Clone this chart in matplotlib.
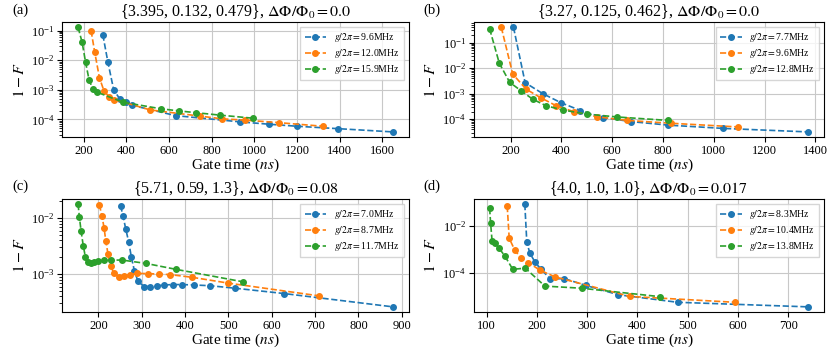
import matplotlib
matplotlib.use("Agg")
import matplotlib.pyplot as plt
from matplotlib.ticker import MultipleLocator

plt.rcParams["font.family"] = "serif"
plt.rcParams["font.serif"] = ["Liberation Serif", "DejaVu Serif"]
plt.rcParams["mathtext.fontset"] = "stix"

# panel (a)
a_titles = "{3.395, 0.132, 0.479}, $\\Delta\\Phi/\\Phi_0=0.0$"
a_g = ["9.6", "12.0", "15.9"]
a_t1 = [289, 313, 340, 368, 396, 427, 630, 933, 1070, 1200, 1391, 1650]
a_f1 = [0.073, 0.0085, 1e-3, 5e-4, 4e-4, 3e-4, 1.35e-4, 8.3e-5, 6.9e-5, 5.9e-5, 4.9e-5, 3.8e-5]
a_t2 = [234, 251, 273, 295, 320, 343, 511, 744, 850, 957, 1116, 1321]
a_f2 = [0.1, 0.0187, 2.6e-3, 8.9e-4, 5.8e-4, 4.7e-4, 2.1e-4, 1.3e-4, 1.05e-4, 9.5e-5, 7.8e-5, 5.9e-5]
a_t3 = [173, 192, 208, 225, 242, 262, 385, 561, 645, 724, 839, 995]
a_f3 = [0.13, 0.04, 0.0087, 0.0021, 1.1e-3, 8.3e-4, 3.8e-4, 2.3e-4, 1.95e-4, 1.7e-4, 1.4e-4, 1.1e-4]

# panel (b)
b_titles = "{3.27, 0.125, 0.462}, $\\Delta\\Phi/\\Phi_0=0.0$"
b_g = ["7.7", "9.6", "12.8"]
b_t1 = [211, 257, 327, 397, 475, 563, 675, 821, 1036, 1373]
b_f1 = [0.4, 2.7e-3, 1e-3, 4.5e-4, 2.2e-4, 1.17e-4, 8.1e-5, 5.9e-5, 4.4e-5, 3.2e-5]
b_t2 = [163, 208, 261, 319, 379, 451, 540, 660, 830, 1097]
b_f2 = [0.4, 5.9e-3, 1.5e-3, 6.9e-4, 3.4e-4, 1.95e-4, 1.25e-4, 9e-5, 7e-5, 5e-5]
b_t3 = [117, 155, 196, 241, 287, 339, 405, 499, 620, 821]
b_f3 = [0.35, 0.0158, 2.8e-3, 1.3e-3, 6.1e-4, 3.4e-4, 2.3e-4, 1.6e-4, 1.23e-4, 9e-5]

# panel (c)
c_titles = "{5.71, 0.59, 1.3}, $\\Delta\\Phi/\\Phi_0=0.08$"
c_g = ["7.0", "8.7", "11.7"]
c_t1 = [251, 257, 263, 270, 276, 283, 291, 305, 320, 336, 352, 372, 392, 420, 458, 515, 628, 880]
c_f1 = [0.0167, 0.0107, 6.4e-3, 3.7e-3, 2.0e-3, 1.15e-3, 7.5e-4, 6.0e-4, 6.0e-4, 6.2e-4,
        6.4e-4, 6.5e-4, 6.5e-4, 6.4e-4, 6.2e-4, 5.6e-4, 4.5e-4, 2.6e-4]
c_t2 = [202, 208, 213, 217, 222, 228, 236, 247, 258, 272, 290, 315, 340, 365, 415, 500, 708]
c_f2 = [0.0174, 0.011, 6.7e-3, 3.9e-3, 2.3e-3, 1.4e-3, 1.03e-3, 9.0e-4, 9.2e-4, 9.8e-4,
        1.03e-3, 1.02e-3, 1.0e-3, 9.8e-4, 8.8e-4, 6.9e-4, 4.1e-4]
c_t3 = [153, 156, 160, 165, 170, 176, 183, 190, 200, 212, 230, 255, 310, 378, 533]
c_f3 = [0.0178, 0.0105, 5.8e-3, 3.2e-3, 2.0e-3, 1.62e-3, 1.57e-3, 1.62e-3, 1.7e-3, 1.75e-3,
        1.78e-3, 1.78e-3, 1.55e-3, 1.22e-3, 7.3e-4]

# panel (d)
d_titles = "{4.0, 1.0, 1.0}, $\\Delta\\Phi/\\Phi_0=0.017$"
d_g = ["8.3", "10.4", "13.8"]
d_t1 = [176, 180, 186, 196, 208, 227, 254, 297, 362, 480, 740]
d_f1 = [0.09, 2.0e-3, 6.9e-4, 2.9e-4, 1.4e-4, 5.2e-5, 5.5e-5, 2.8e-5, 1.1e-5, 5.2e-6, 3.3e-6]
d_t2 = [141, 145, 156, 168, 183, 206, 237, 385, 594]
d_f2 = [0.074, 3.0e-3, 9.3e-4, 4.3e-4, 2.7e-4, 1.26e-4, 6.4e-5, 9.3e-6, 5.2e-6]
d_t3 = [106, 108, 111, 117, 125, 136, 152, 177, 216, 289, 445]
d_f3 = [0.060, 0.0135, 2.2e-3, 1.9e-3, 1.1e-3, 5.3e-4, 1.38e-4, 1.54e-4, 2.6e-5, 2.1e-5, 9.1e-6]

panels = [
    ("(a)", a_titles, a_g, [(a_t1, a_f1), (a_t2, a_f2), (a_t3, a_f3)], 200, None),
    ("(b)", b_titles, b_g, [(b_t1, b_f1), (b_t2, b_f2), (b_t3, b_f3)], 200, None),
    ("(c)", c_titles, c_g, [(c_t1, c_f1), (c_t2, c_f2), (c_t3, c_f3)], 100, None),
    ("(d)", d_titles, d_g, [(d_t1, d_f1), (d_t2, d_f2), (d_t3, d_f3)], 100, [1e-2, 1e-4]),
]

fig = plt.figure(figsize=(8.31, 3.49), dpi=100)

rects = [
    [0.075, 0.607, 0.417, 0.330],
    [0.570, 0.607, 0.422, 0.330],
    [0.075, 0.106, 0.417, 0.324],
    [0.570, 0.106, 0.422, 0.324],
]

for rect, (tag, title, gs, series, xstep, yt) in zip(rects, panels):
    ax = fig.add_axes(rect)
    for g, (t, f) in zip(gs, series):
        ax.plot(t, f, "o--", ms=4, lw=1.2, label="$g/2\\pi=$" + g + "MHz")
    ax.set_yscale("log")
    ax.xaxis.set_major_locator(MultipleLocator(xstep))
    if yt is not None:
        ax.set_yticks(yt)
    ax.grid(True, color="#c8c8c8", lw=0.8)
    ax.set_title(title, fontsize=11.5, pad=4)
    ax.set_xlabel("Gate time ($ns$)", fontsize=11, labelpad=0)
    ax.set_ylabel("$1-F$", fontsize=11.5, labelpad=2)
    ax.tick_params(labelsize=9, pad=2)
    ax.legend(fontsize=7, loc="upper right", handlelength=2.2, borderpad=0.45,
              labelspacing=0.3, fancybox=False, edgecolor="#cccccc")
    fig.text(rect[0] - 0.06, rect[1] + rect[3] + 0.035, tag, fontsize=10.5, va="center")

fig.savefig("out.png", dpi=100)
